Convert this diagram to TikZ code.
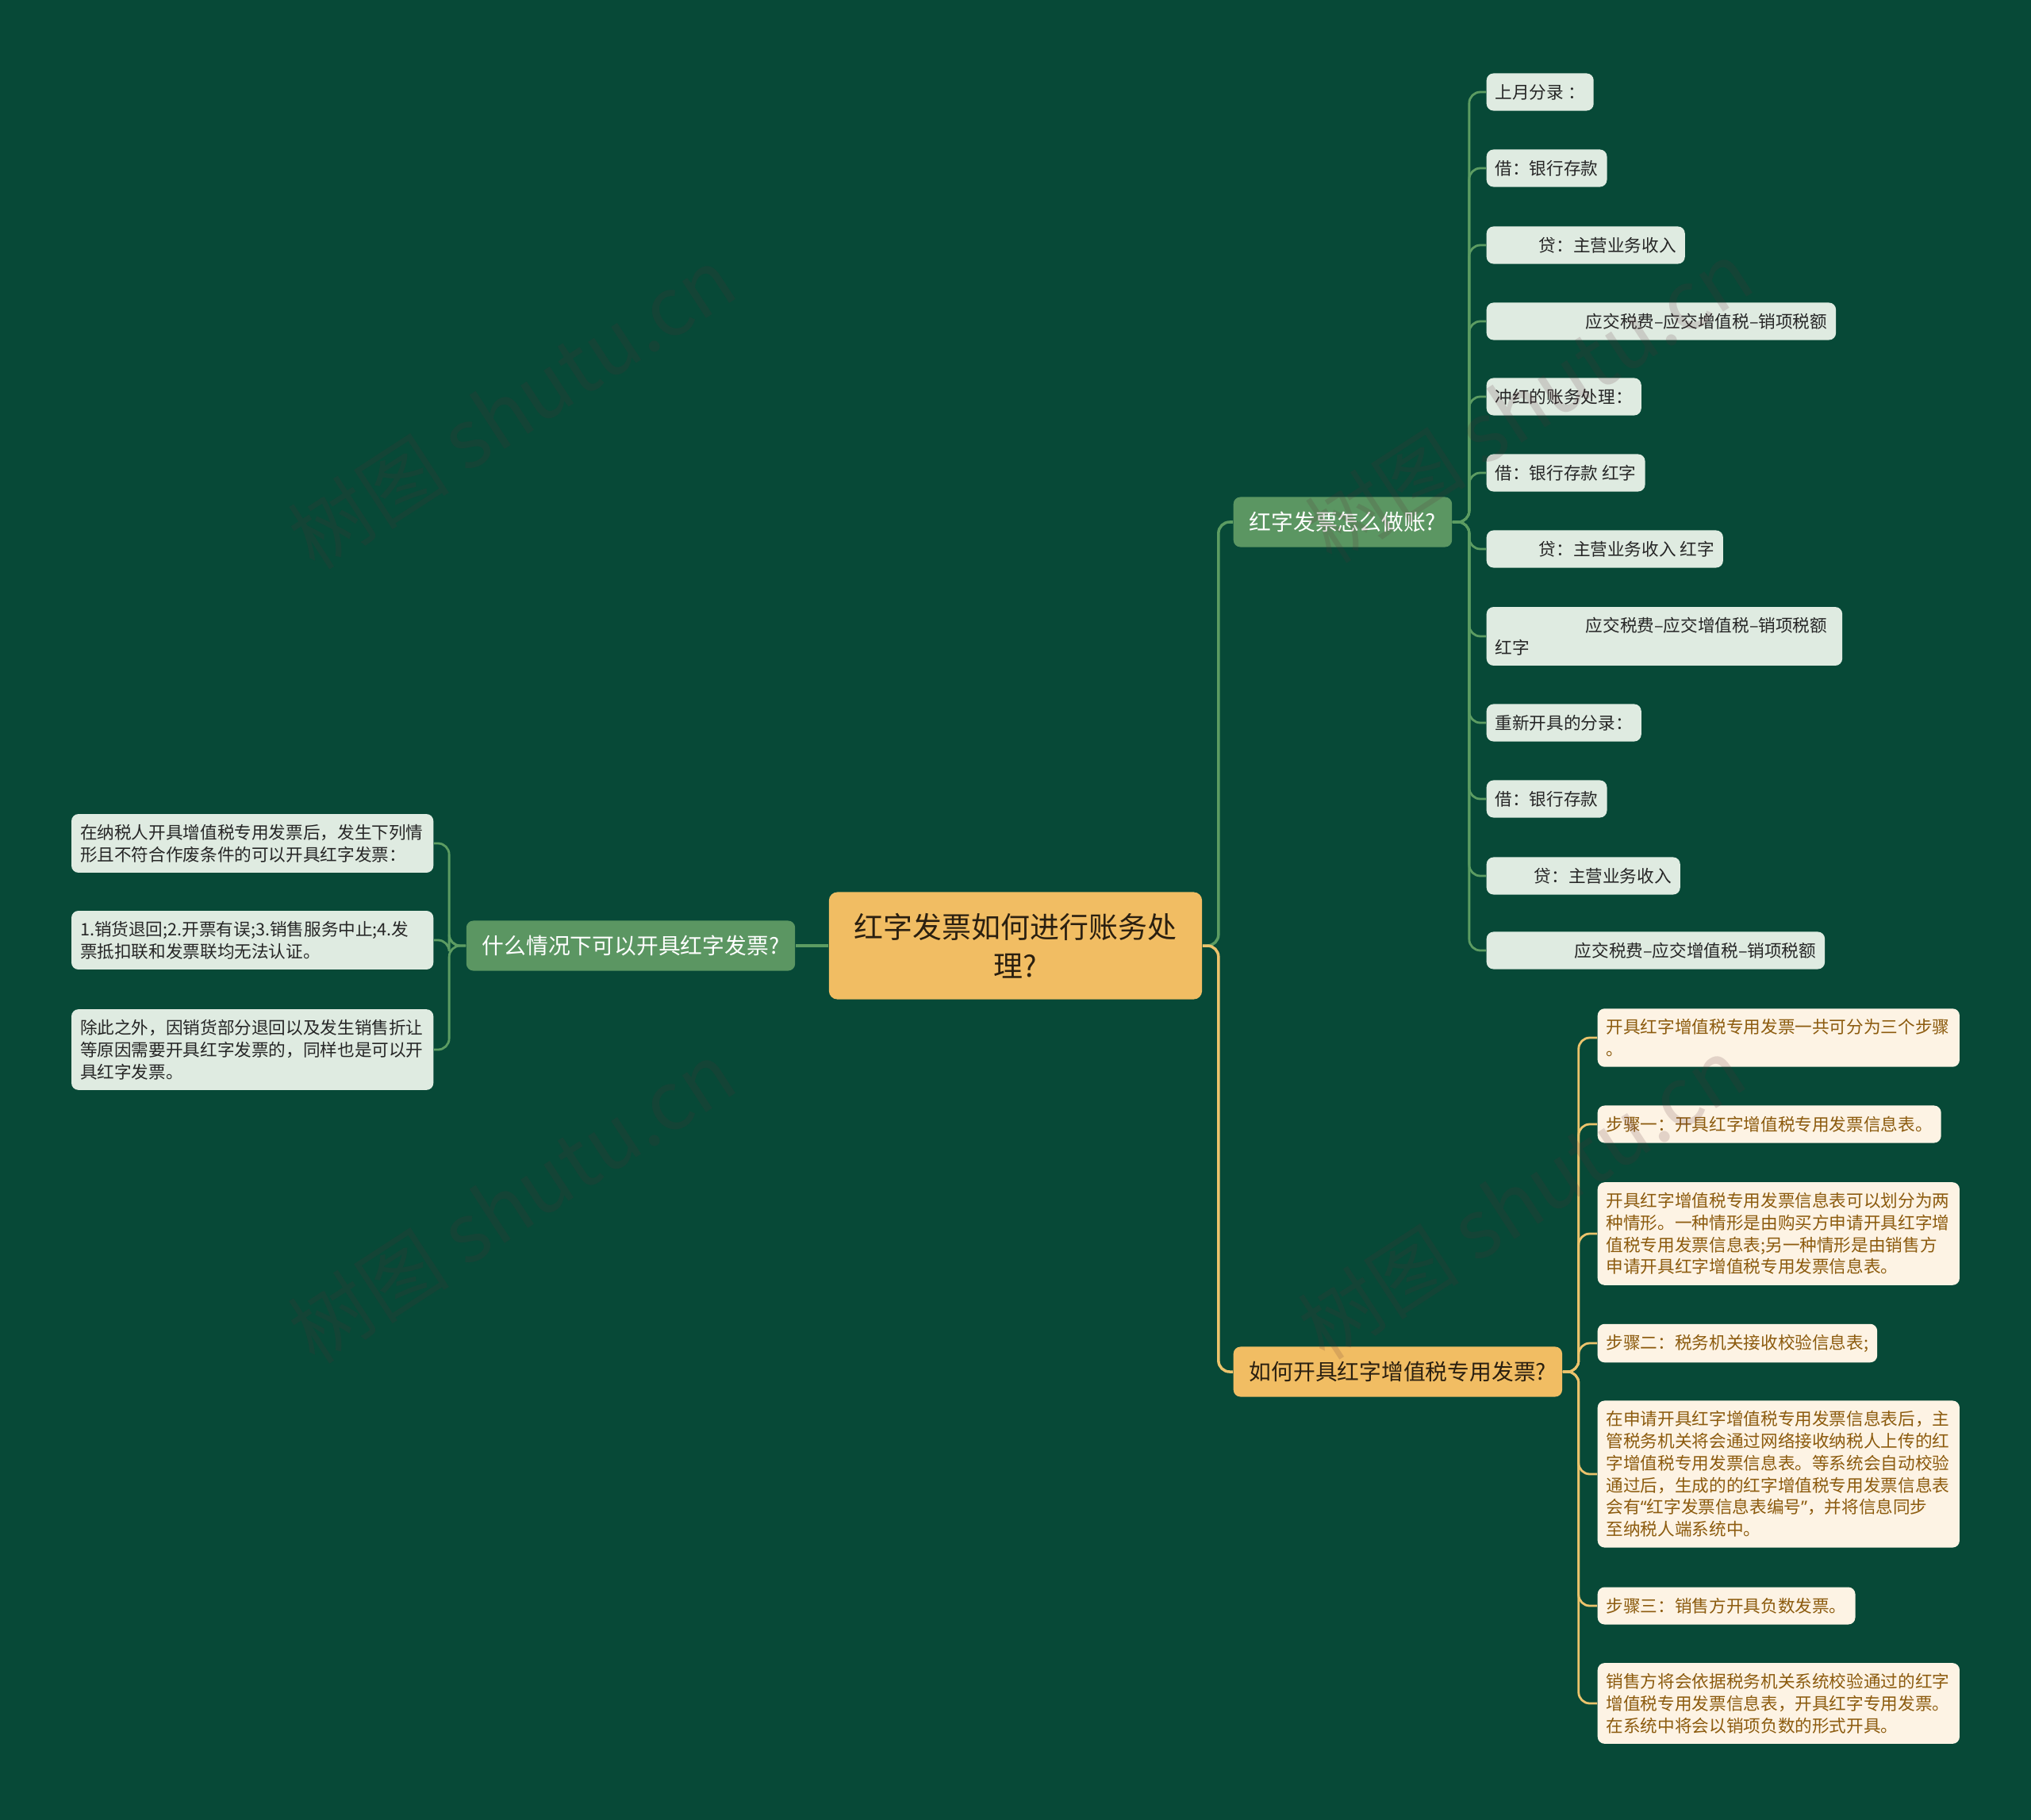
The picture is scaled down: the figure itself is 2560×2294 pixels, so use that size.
\documentclass[tikz,border=0pt]{standalone}
\usepackage{fontspec}
\setmainfont{Noto Sans CJK SC}
\newfontfamily\latinf{Noto Sans}
\usetikzlibrary{positioning}
\definecolor{bgc}{HTML}{074937}
\definecolor{leafc}{HTML}{DFEBE1}
\definecolor{greenc}{HTML}{5B9662}
\definecolor{glinec}{HTML}{5C9C62}
\definecolor{orangec}{HTML}{F1BD63}
\definecolor{ylinec}{HTML}{EBC36C}
\definecolor{creamc}{HTML}{FDF3E4}
\definecolor{browntxt}{HTML}{8C5B0E}
\definecolor{darktxt}{HTML}{2A1F10}
\definecolor{wmc}{HTML}{5A2A35}

\begin{document}
\begin{tikzpicture}[x=0.01cm, y=-0.01cm,
    rootbox/.style={fill=orangec, rounded corners=3pt, minimum width=4.7cm, minimum height=1.35cm, align=center, font={\fontsize{10.5}{14}\selectfont}, text=darktxt},
    brG/.style={fill=greenc, rounded corners=2.5pt, inner xsep=0.2cm, minimum height=0.63cm, font={\fontsize{7.9}{10}\selectfont}, text=white},
    brY/.style={fill=orangec, rounded corners=2.5pt, inner xsep=0.2cm, minimum height=0.63cm, font={\fontsize{7.9}{10}\selectfont}, text=darktxt},
    leaf/.style={fill=leafc, rounded corners=2.5pt, align=left, inner xsep=0.11cm, inner ysep=0.13cm, minimum height=0.47cm, font={\fontsize{6.15}{7.9}\selectfont}, text=black!85},
    wide/.style={text width=4.34cm},
    crm/.style={leaf, fill=creamc, text=browntxt},
    lnG/.style={draw=glinec, line width=1pt, rounded corners=4pt},
    lnY/.style={draw=ylinec, line width=1pt, rounded corners=4pt},
    wmark/.style={font={\fontsize{29}{30}\selectfont}, text=wmc, opacity=0.16, rotate=33}
]
\fill[bgc] (0,0) rectangle (2560,2294);

% centre
\node[rootbox] (root) at (1280,1192) {红字发票如何进行账务处\\理?};

% branches
\node[brG] (brL) at (795,1192) {什么情况下可以开具红字发票?};
\node[brG, anchor=west] (brA) at (1554,658) {红字发票怎么做账?};
\node[brY, anchor=west] (brB) at (1554,1729) {如何开具红字增值税专用发票?};

% leaves of brA
\node[leaf, anchor=west] (r1) at (1873,116) {上月分录 ：};
\node[leaf, anchor=west] (r2) at (1873,212) {借：银行存款};
\node[leaf, anchor=west] (r3) at (1873,309) {\hspace*{0.55cm}贷：主营业务收入};
\node[leaf, anchor=west] (r4) at (1873,405) {\hspace*{1.14cm}应交税费–应交增值税–销项税额};
\node[leaf, anchor=west] (r5) at (1873,500) {冲红的账务处理：};
\node[leaf, anchor=west] (r6) at (1873,596) {借：银行存款 红字};
\node[leaf, anchor=west] (r7) at (1873,692) {\hspace*{0.55cm}贷：主营业务收入 红字};
\node[leaf, anchor=west] (r8) at (1873,802) {\hspace*{1.14cm}应交税费–应交增值税–销项税额\hspace*{0.08cm}\\红字};
\node[leaf, anchor=west] (r9) at (1873,911) {重新开具的分录：};
\node[leaf, anchor=west] (r10) at (1873,1007) {借：银行存款};
\node[leaf, anchor=west] (r11) at (1873,1104) {\hspace*{0.49cm}贷：主营业务收入};
\node[leaf, anchor=west] (r12) at (1873,1198) {\hspace*{1.0cm}应交税费–应交增值税–销项税额};

% leaves of brB
\node[crm, wide, anchor=west] (s1) at (2013,1308) {开具红字增值税专用发票一共可分为三个步骤\\。};
\node[crm, anchor=west] (s2) at (2013,1417) {步骤一：开具红字增值税专用发票信息表。};
\node[crm, wide, anchor=west] (s3) at (2013,1555) {开具红字增值税专用发票信息表可以划分为两\\种情形。一种情形是由购买方申请开具红字增\\值税专用发票信息表;另一种情形是由销售方\\申请开具红字增值税专用发票信息表。};
\node[crm, anchor=west] (s4) at (2013,1693) {步骤二：税务机关接收校验信息表;};
\node[crm, wide, anchor=west] (s5) at (2013,1858) {在申请开具红字增值税专用发票信息表后，主\\管税务机关将会通过网络接收纳税人上传的红\\字增值税专用发票信息表。等系统会自动校验\\通过后，生成的的红字增值税专用发票信息表\\会有{\latinf “}红字发票信息表编号{\latinf ”}，并将信息同步\\至纳税人端系统中。};
\node[crm, anchor=west] (s6) at (2013,2024) {步骤三：销售方开具负数发票。};
\node[crm, wide, anchor=west] (s7) at (2013,2147) {销售方将会依据税务机关系统校验通过的红字\\增值税专用发票信息表，开具红字专用发票。\\在系统中将会以销项负数的形式开具。};

% leaves of brL
\node[leaf, wide, anchor=east] (l1) at (547,1063) {在纳税人开具增值税专用发票后，发生下列情\\形且不符合作废条件的可以开具红字发票：};
\node[leaf, wide, anchor=east] (l2) at (547,1185) {1.销货退回;2.开票有误;3.销售服务中止;4.发\\票抵扣联和发票联均无法认证。};
\node[leaf, wide, anchor=east] (l3) at (547,1323) {除此之外，因销货部分退回以及发生销售折让\\等原因需要开具红字发票的，同样也是可以开\\具红字发票。};

% connectors
\draw[lnG] (root.west) -- (brL.east);
\draw[lnG] (root.east) -- ++(20,0) |- (brA.west);
\draw[lnY] (root.east) -- ++(20,0) |- (brB.west);
\foreach \n in {1,...,12}
  \draw[lnG, line width=0.8pt] (brA.east) -- ++(21,0) |- (r\n.west);
\foreach \n in {1,...,7}
  \draw[lnY, line width=0.8pt] (brB.east) -- ++(20,0) |- (s\n.west);
\foreach \n in {1,2,3}
  \draw[lnG, line width=0.8pt] (brL.west) -- ++(-21,0) |- (l\n.east);

% watermark
\node[wmark] (wm1) at (645,514) {树图 shutu.cn};
\node[wmark] (wm2) at (645,1515) {树图 shutu.cn};
\node[wmark] (wm3) at (1927,506) {树图 shutu.cn};
\node[wmark] (wm4) at (1918,1510) {树图 shutu.cn};
\end{tikzpicture}
\end{document}
